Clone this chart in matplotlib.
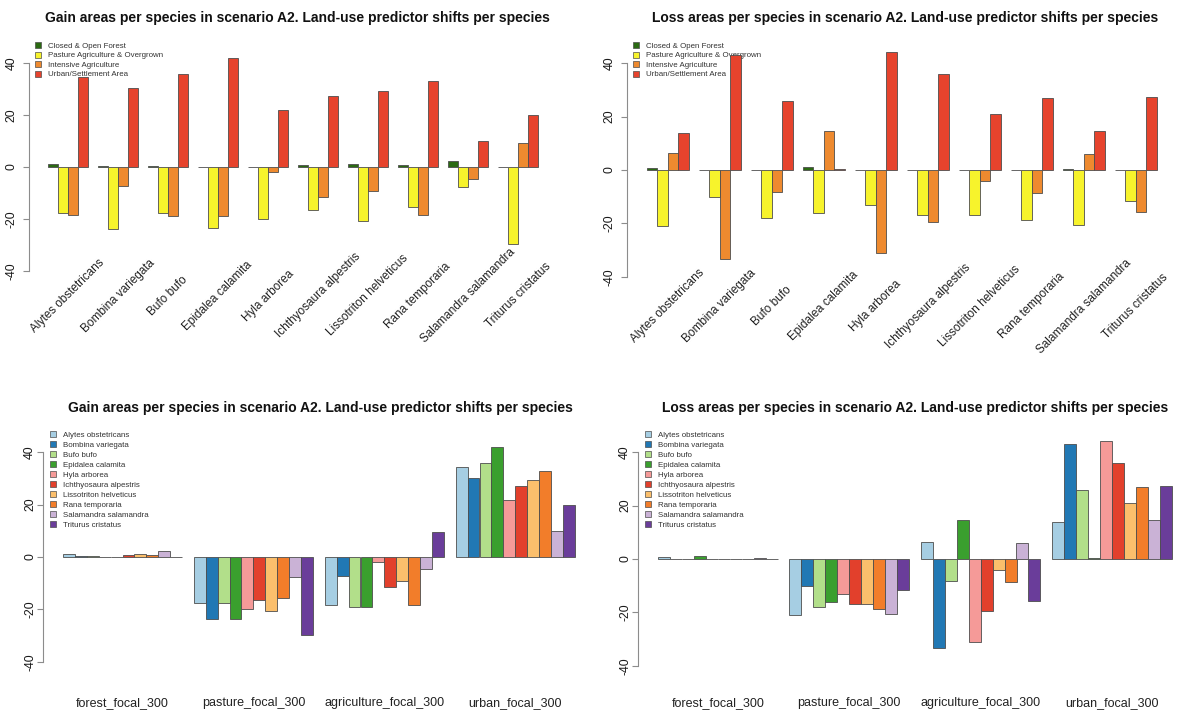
import matplotlib
matplotlib.use("Agg")
import matplotlib.pyplot as plt
import numpy as np
from matplotlib.patches import Patch

plt.rcParams["font.family"] = ["Liberation Sans", "DejaVu Sans"]

species = ["Alytes obstetricans", "Bombina variegata", "Bufo bufo", "Epidalea calamita",
           "Hyla arborea", "Ichthyosaura alpestris", "Lissotriton helveticus",
           "Rana temporaria", "Salamandra salamandra", "Triturus cristatus"]
landuse = ["Closed & Open Forest", "Pasture Agriculture & Overgrown",
           "Intensive Agriculture", "Urban/Settlement Area"]
predictors = ["forest_focal_300", "pasture_focal_300", "agriculture_focal_300", "urban_focal_300"]

# gain areas, one value per species
gain_forest = [1.0, 0.4, 0.5, 0.1, 0.1, 0.8, 1.0, 0.8, 2.3, 0.1]
gain_pasture = [-17.5, -23.8, -17.5, -23.5, -20.0, -16.5, -20.7, -15.5, -7.5, -29.7]
gain_agri = [-18.3, -7.3, -19.0, -19.0, -2.0, -11.5, -9.3, -18.5, -4.5, 9.4]
gain_urban = [34.5, 30.3, 35.7, 42.0, 21.8, 27.2, 29.2, 33.0, 10.0, 20.0]

# loss areas, one value per species
loss_forest = [0.8, 0.1, 0.1, 1.0, 0.05, 0.1, 0.1, 0.1, 0.5, 0.1]
loss_pasture = [-21.0, -10.0, -18.0, -16.0, -13.0, -17.0, -17.0, -18.8, -20.6, -11.5]
loss_agri = [6.5, -33.3, -8.2, 14.6, -31.2, -19.3, -4.2, -8.5, 6.0, -15.8]
loss_urban = [13.8, 43.0, 25.8, 0.5, 44.3, 35.8, 21.0, 27.0, 14.5, 27.3]

landuse_colors = ["#2b6a12", "#f7f32c", "#ee8a2f", "#e6432d"]
species_colors = ["#a6cee3", "#2178b4", "#b2df8a", "#3a9f2e", "#f59a98",
                  "#e2402c", "#fbbf6c", "#f27d2a", "#cab2d6", "#6a3d9a"]

W, H = 1180, 713
fig = plt.figure(figsize=(W / 100, H / 100), dpi=100)


def make_axes(box, first_bar, unit, zero, ppu, pad):
    L, R, T, B = box
    ax = fig.add_axes([L / W, 1 - B / H, (R - L) / W, (B - T) / H])
    ax.set_xlim(1 + (L - first_bar) / unit, 1 + (R - first_bar) / unit)
    ax.set_ylim((zero - B) / ppu, (zero - T) / ppu)
    for s in ["top", "right", "bottom"]:
        ax.spines[s].set_visible(False)
    ax.spines["left"].set_bounds(-40, 40)
    ax.spines["left"].set_color("#8c8c8c")
    ax.set_xticks([])
    ticks = [-40, -20, 0, 20, 40]
    ax.set_yticks(ticks)
    ax.set_yticklabels([str(t) for t in ticks], rotation=90, va="center")
    ax.tick_params(axis="y", length=4, color="#8c8c8c", labelsize=8.8,
                   labelcolor="#1a1a1a", pad=pad)
    return ax


def grouped_bars(ax, table, colors):
    n = len(table)
    ngroups = len(table[0])
    for j, (vals, c) in enumerate(zip(table, colors)):
        x = 1 + np.arange(ngroups) * (n + 1) + j
        ax.bar(x, vals, width=1, align="edge", color=c, edgecolor="#4d4d4d",
               linewidth=0.6, zorder=2)
    return 1 + np.arange(ngroups) * (n + 1) + n / 2


def add_legend(ax, labels, colors, left, row_y, spacing):
    handles = [Patch(facecolor=c, edgecolor="#4d4d4d", linewidth=0.5) for c in colors]
    leg = ax.legend(handles, labels, loc="upper left",
                    bbox_to_anchor=(left / W, 1 - (row_y - 5) / H),
                    bbox_transform=fig.transFigure, frameon=False, fontsize=5.7,
                    handlelength=0.8, handleheight=0.8, handletextpad=0.8,
                    labelspacing=spacing, borderpad=0, borderaxespad=0,
                    labelcolor="#333333")
    leg.set_zorder(1)


def title(x, y, text):
    fig.text(x / W, 1 - y / H, text, ha="center", va="center",
             fontsize=10, fontweight="bold", color="#111111")


gain_cols = [gain_forest, gain_pasture, gain_agri, gain_urban]
loss_cols = [loss_forest, loss_pasture, loss_agri, loss_urban]

# top row: land-use classes grouped by species
for cols, kind, box, first, unit, zero, ppu, lab_y, tx in [
        (gain_cols, "Gain", (29, 565, 40, 285), 48, 10.0, 167, 2.6, -49.5, 297),
        (loss_cols, "Loss", (627, 1172, 40, 290), 647, 10.4, 170, 2.67, -51.0, 905)]:
    ax = make_axes(box, first, unit, zero, ppu, pad=4)
    centers = grouped_bars(ax, cols, landuse_colors)
    for cx, name in zip(centers, species):
        ax.text(cx, lab_y, name, rotation=45, ha="center", va="center",
                fontsize=8.5, color="#222222", clip_on=False)
    add_legend(ax, landuse, landuse_colors, box[0] + 6, 47, 0.22)
    title(tx, 18, f"{kind} areas per species in scenario A2. Land-use predictor shifts per species")

# bottom row: species grouped by land-use predictor
for cols, kind, box, first, unit, zero, ppu, tx in [
        (gain_cols, "Gain", (43, 585, 430, 672), 63, 11.9, 557, 2.62, 320),
        (loss_cols, "Loss", (638, 1178, 430, 674), 658, 11.95, 559, 2.67, 915)]:
    ax = make_axes(box, first, unit, zero, ppu, pad=1)
    table = [[c[i] for c in cols] for i in range(len(species))]
    centers = grouped_bars(ax, table, species_colors)
    lab_y = (zero - 703) / ppu
    for cx, name in zip(centers, predictors):
        ax.text(cx, lab_y, name, ha="center", va="center", fontsize=9,
                color="#222222", clip_on=False)
    add_legend(ax, species, species_colors, box[0] + 7, 436, 0.28)
    title(tx, 408, f"{kind} areas per species in scenario A2. Land-use predictor shifts per species")

fig.savefig("out.png", dpi=100)
